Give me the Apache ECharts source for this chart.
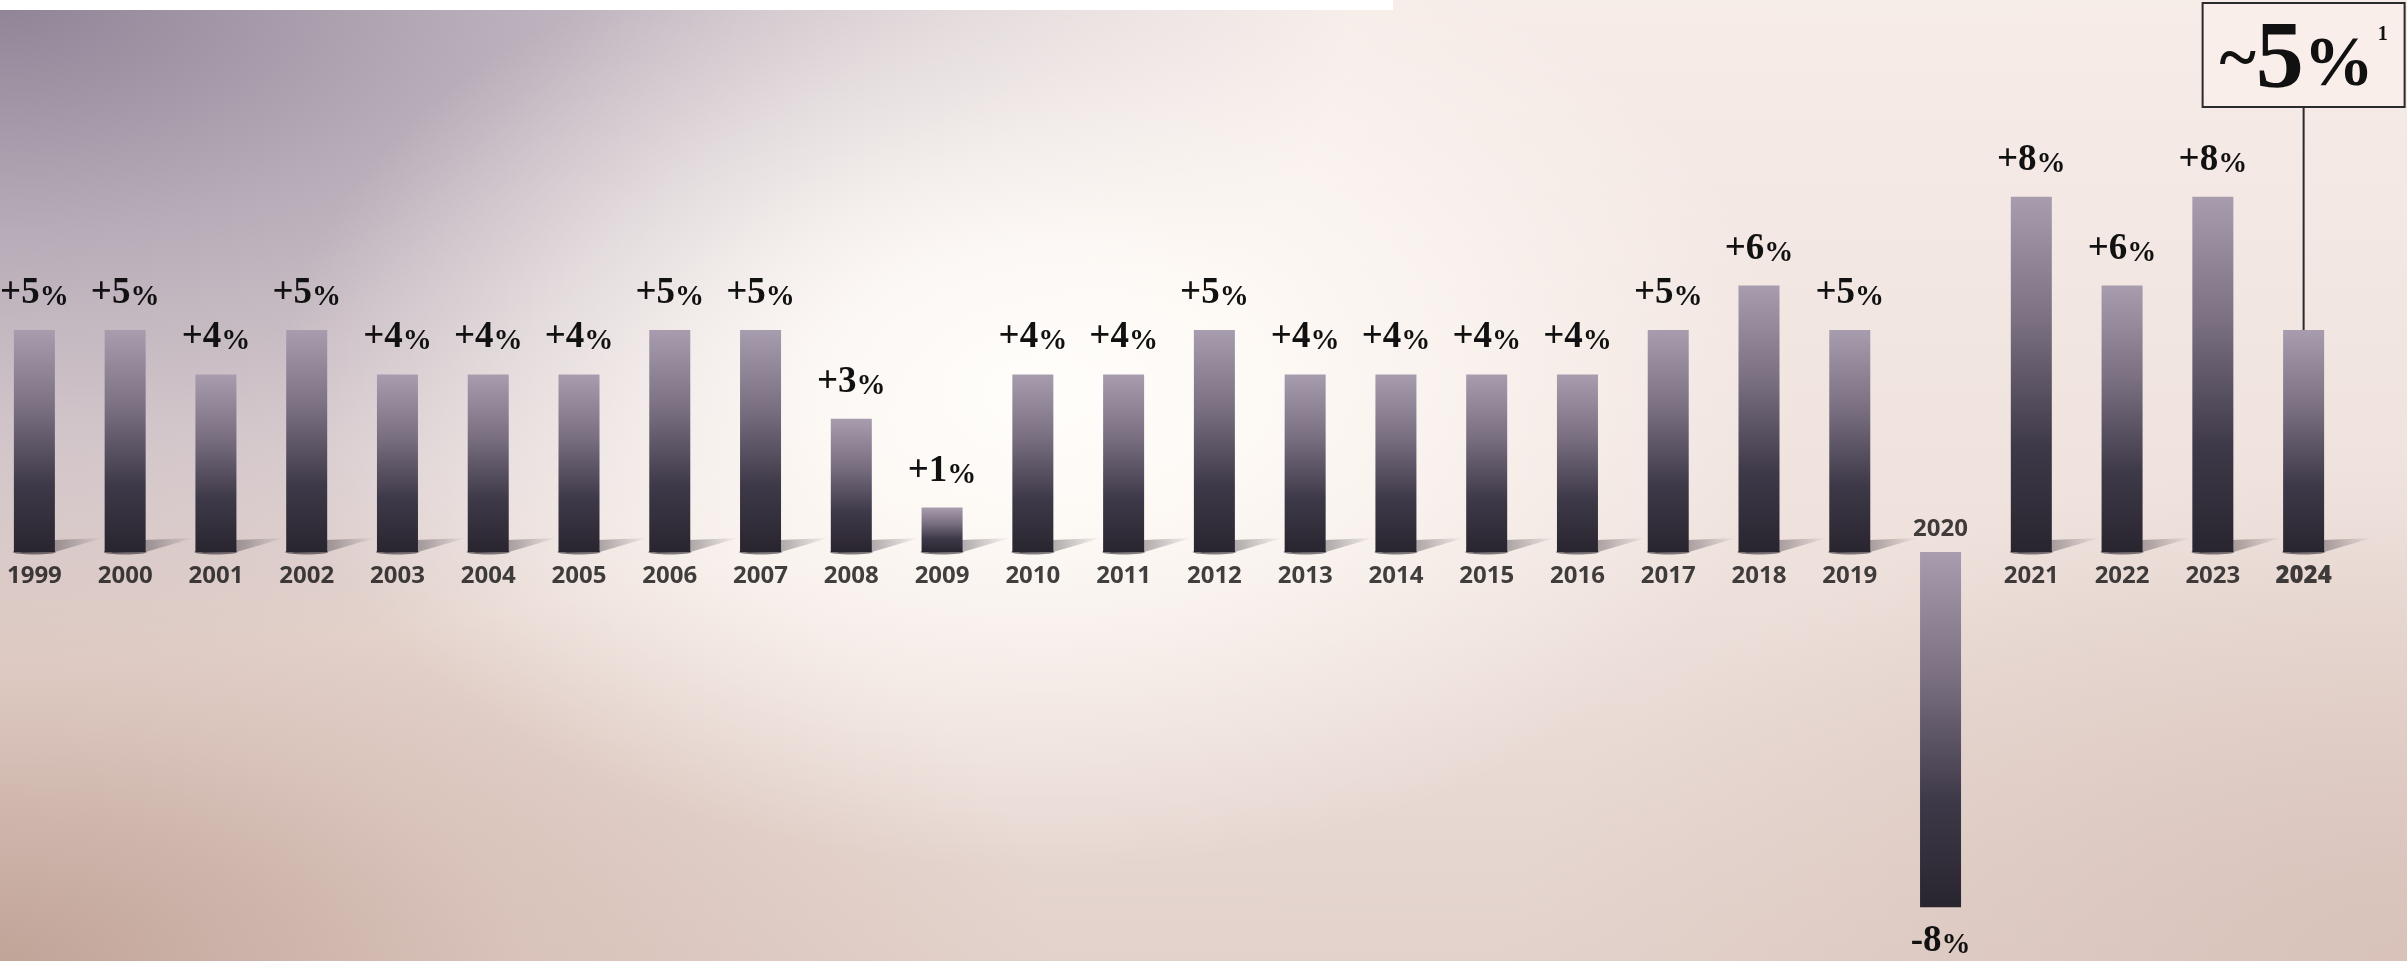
<!DOCTYPE html>
<html>
<head>
<meta charset="utf-8">
<script src="https://cdn.jsdelivr.net/npm/echarts@6/dist/echarts.min.js"></script>
<style>
  html, body { margin: 0; padding: 0; }
  body {
    width: 2407px; height: 961px; overflow: hidden; position: relative;
    background:
      radial-gradient(ellipse 760px 480px at 1040px 390px, rgba(255,253,250,1) 0%, rgba(255,251,247,0.9) 30%, rgba(253,246,242,0) 100%),
      radial-gradient(ellipse 1350px 660px at 0px 0px, rgba(143,132,150,1) 0%, rgba(168,156,173,0.8) 35%, rgba(215,200,205,0) 100%),
      radial-gradient(ellipse 1050px 540px at 0px 961px, rgba(193,164,152,1) 0%, rgba(208,182,172,0.55) 50%, rgba(220,195,185,0) 100%),
      radial-gradient(ellipse 900px 500px at 2407px 961px, rgba(216,194,186,1) 0%, rgba(225,208,202,0) 100%),
      linear-gradient(180deg, #f6ece8 0%, #efe2dd 55%, #e3d2cc 100%);
  }
  /* the plot runs slightly past the left edge so the first bar sits near it */
  #chart { position: absolute; left: -11px; top: 0; width: 2418px; height: 961px; }
</style>
</head>
<body>
<div id="chart"></div>
<script>
// Annual growth, %, by year
const years = ['1999','2000','2001','2002','2003','2004','2005','2006','2007','2008','2009',
  '2010','2011','2012','2013','2014','2015','2016','2017','2018','2019','2020',
  '2021','2022','2023','2024'];
const growth = [5, 5, 4, 5, 4, 4, 4, 5, 5, 3, 1, 4, 4, 5, 4, 4, 4, 4, 5, 6, 5, -8, 8, 6, 8, 5];
// the latest year is an estimate, shown in a callout box
const estimateIndex = years.length - 1;
const estimateNote = '1';

const SERIF = '"Liberation Serif", "DejaVu Serif", serif';
const SANS = '"Open Sans", "Noto Sans", sans-serif';
const CALLOUT_GAP = 224;

const barGradient = new echarts.graphic.LinearGradient(0, 0, 0, 1, [
  { offset: 0, color: '#a79dae' },
  { offset: 0.35, color: '#7a7082' },
  { offset: 0.7, color: '#3e3948' },
  { offset: 1, color: '#29252f' }
]);

function signed(v) { return (v > 0 ? '+' : v < 0 ? '-' : '') + Math.abs(v); }

const barData = growth.map((v, i) => {
  if (i === estimateIndex) {
    return {
      value: v,
      label: {
        position: 'top',
        distance: CALLOUT_GAP,
        formatter: '{t|~}{n|' + Math.abs(v) + '}{p|%}{s|' + estimateNote + '}',
        backgroundColor: '#f9eeea',
        borderColor: '#2b2a2d',
        borderWidth: 2,
        width: 200,
        height: 102,
        padding: 0,
        align: 'center',
        rich: {
          t: { fontFamily: SERIF, fontWeight: 'bold', fontSize: 70, color: '#111', verticalAlign: 'middle', padding: [10, 0, 0, 0] },
          n: { fontFamily: SERIF, fontWeight: 'bold', fontSize: 96, color: '#111', verticalAlign: 'middle', padding: [10, 0, 0, 0] },
          p: { fontFamily: SERIF, fontWeight: 'bold', fontSize: 70, color: '#111', verticalAlign: 'middle', padding: [20, 0, 0, 0] },
          s: { fontFamily: SERIF, fontWeight: 'bold', fontSize: 20, color: '#111', verticalAlign: 'middle', padding: [0, 0, 44, 4] }
        }
      }
    };
  }
  return {
    value: v,
    label: v < 0 ? { position: 'bottom', distance: 16 } : { position: 'top', distance: 18 }
  };
});

const option = {
  animation: false,
  graphic: [
    { type: 'rect', left: 11, top: 0, z: 100, shape: { width: 1393, height: 10 }, style: { fill: '#ffffff' } }
  ],
  grid: { left: 0, right: 58, top: 19.2, bottom: 9.4, containLabel: false },
  xAxis: {
    type: 'category',
    data: years,
    boundaryGap: true,
    axisLine: { show: false },
    axisTick: { show: false },
    axisLabel: { show: false },
    splitLine: { show: false }
  },
  yAxis: {
    type: 'value',
    min: -9,
    max: 12,
    show: false,
    splitLine: { show: false }
  },
  series: [
    {
      // soft cast shadows at the foot of each rising bar
      type: 'custom',
      z: 1,
      silent: true,
      data: growth.map((v, i) => [i, v]),
      renderItem: function (params, api) {
        const v = api.value(1);
        if (v <= 0) return null;
        const base = api.coord([api.value(0), 0]);
        const half = 20.5;
        const xl = base[0] - half, xr = base[0] + half, y = base[1];
        return {
          type: 'group',
          children: [
            {
              type: 'polygon',
              shape: { points: [[xl + 6, y + 1], [xr, y], [xr + 48, y - 14], [xl + 40, y - 12]] },
              style: {
                fill: new echarts.graphic.LinearGradient(0, 0, 1, 0, [
                  { offset: 0, color: 'rgba(35,30,40,0.55)' },
                  { offset: 0.55, color: 'rgba(35,30,40,0.28)' },
                  { offset: 1, color: 'rgba(35,30,40,0)' }
                ])
              }
            },
            {
              type: 'ellipse',
              shape: { cx: base[0], cy: y, rx: half + 1, ry: 2.5 },
              style: { fill: 'rgba(30,26,34,0.55)' }
            }
          ]
        };
      }
    },
    {
      type: 'bar',
      name: 'growth',
      z: 2,
      barWidth: 41,
      data: barData,
      itemStyle: { color: barGradient },
      label: {
        show: true,
        formatter: function (p) {
          return '{n|' + signed(p.value) + '}{p|%}';
        },
        rich: {
          n: { fontFamily: SERIF, fontWeight: 'bold', fontSize: 37, color: '#111', verticalAlign: 'bottom' },
          p: { fontFamily: SERIF, fontWeight: 'bold', fontSize: 29, color: '#111', verticalAlign: 'bottom' }
        }
      }
    },
    {
      // leader from the estimate bar up to its callout box
      type: 'custom',
      z: 3,
      silent: true,
      data: [[estimateIndex, growth[estimateIndex]]],
      renderItem: function (params, api) {
        const top = api.coord([api.value(0), api.value(1)]);
        return {
          type: 'line',
          shape: { x1: top[0], y1: top[1], x2: top[0], y2: top[1] - CALLOUT_GAP },
          style: { stroke: '#2b2a2d', lineWidth: 2 }
        };
      }
    },
    {
      // year names sit under the baseline, or above it where the bar falls
      type: 'scatter',
      z: 4,
      silent: true,
      symbolSize: 0,
      data: years.map((y, i) => ({
        value: [i, 0],
        label: {
          position: growth[i] < 0 ? 'top' : 'bottom',
          distance: growth[i] < 0 ? 11 : 12,
          fontWeight: i === estimateIndex ? 800 : 700
        }
      })),
      label: {
        show: true,
        formatter: function (p) { return years[p.dataIndex]; },
        fontFamily: SANS,
        fontSize: 24,
        color: '#111'
      }
    }
  ]
};

const chart = echarts.init(document.getElementById('chart'), null, { renderer: 'canvas' });
chart.setOption(option);
</script>
</body>
</html>
